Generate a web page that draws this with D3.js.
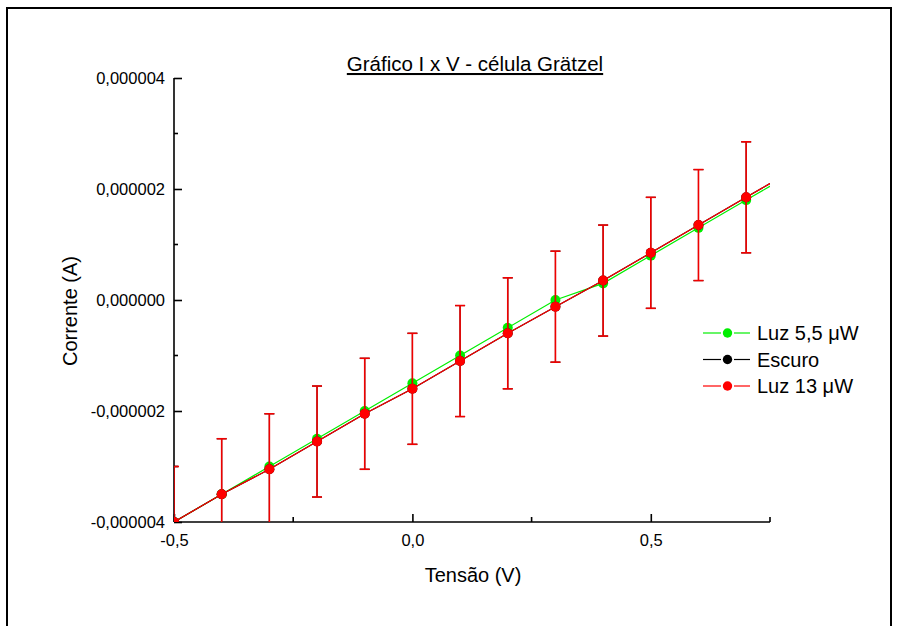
<!DOCTYPE html>
<html>
<head>
<meta charset="utf-8">
<script src="https://cdn.jsdelivr.net/npm/d3@7"></script>
<style>
  body { margin: 0; background: #fff; }
  svg { display: block; font-family: "Liberation Sans", Arial, sans-serif; }
</style>
</head>
<body>
<svg id="chart" width="898" height="626"></svg>
<script>
// tensão (V) and corrente (µA)
const voltage = [-0.5, -0.4, -0.3, -0.2, -0.1, 0.0, 0.1, 0.2, 0.3, 0.4, 0.5, 0.6, 0.7, 0.8]
const luz55 = [-4.0, -3.5, -3.0, -2.5, -2.0, -1.5, -1.0, -0.5, 0.0, 0.3, 0.8, 1.3, 1.8, 2.3]
const escuro = [-4.0, -3.5, -3.05, -2.55, -2.05, -1.6, -1.1, -0.6, -0.12, 0.35, 0.85, 1.35, 1.85, 2.35]
const luz13 = [-4.0, -3.5, -3.05, -2.55, -2.05, -1.6, -1.1, -0.6, -0.12, 0.35, 0.85, 1.35, 1.85, 2.35]
const errEscuro = [1, 1, 1, 1, 1, 1, 1, 1, 1, 1, 1, 1, 1, 1]
const errLuz13 = [1, 1, 1, 1, 1, 1, 1, 1, 1, 1, 1, 1, 1, 1]

const xTicks = [-0.5, 0.0, 0.5]
const xMinor = [-0.25, 0.25, 0.75]
const yTicks = [-4, -2, 0, 2, 4]
const yMinor = [-3, -1, 1, 3]

const seriesNames = ["Luz 5,5 \u03BCW", "Escuro", "Luz 13 \u03BCW"]
const seriesColors = ["#00ee00", "#000000", "#ff0000"]

const svg = d3.select("#chart")
const plot = { left: 174, right: 770, top: 78, bottom: 522 }

const x = d3.scaleLinear().domain([-0.5, 0.75]).range([plot.left, plot.right])
const y = d3.scaleLinear().domain([-4, 4]).range([plot.bottom, plot.top])

const fmtY = (v) => (v === 0 ? "0,000000" : d3.format(".6f")(v * 1e-6).replace(".", ",").replace("−", "-"))
const fmtX = (v) => d3.format(".1f")(v).replace(".", ",").replace("−", "-")

// outer frame
svg.append("rect")
  .attr("x", 7).attr("y", 8)
  .attr("width", 884).attr("height", 640)
  .attr("fill", "none")
  .attr("stroke", "#000")
  .attr("stroke-width", 2)

svg.append("defs").append("clipPath").attr("id", "clip")
  .append("rect")
  .attr("x", plot.left).attr("y", plot.top)
  .attr("width", plot.right - plot.left).attr("height", plot.bottom - plot.top)

// title
svg.append("text")
  .attr("x", 475).attr("y", 71)
  .attr("text-anchor", "middle")
  .attr("font-size", 20.5)
  .attr("text-decoration", "underline")
  .text("Gráfico I x V - célula Grätzel")

// axes
const yAxis = d3.axisLeft(y).tickValues(yTicks).tickSize(-8).tickPadding(9).tickFormat(fmtY)
const gy = svg.append("g").attr("transform", `translate(${plot.left},0)`).call(yAxis)
gy.select(".domain").attr("stroke-width", 1.6).attr("d", `M0,${plot.top}V${plot.bottom}`)
gy.selectAll(".tick line").attr("stroke-width", 1.6)
gy.selectAll(".tick text").attr("font-size", 16.5).attr("fill", "#000").attr("font-family", "Liberation Sans, Arial")
gy.selectAll(".tick text").attr("x", -9)
gy.selectAll("line.minor").data(yMinor).join("line")
  .attr("class", "minor")
  .attr("x1", 0).attr("x2", 4)
  .attr("y1", (d) => y(d)).attr("y2", (d) => y(d))
  .attr("stroke", "#000").attr("stroke-width", 1.6)

const xAxis = d3.axisBottom(x).tickValues(xTicks).tickSize(-8).tickPadding(12).tickFormat(fmtX)
const gx = svg.append("g").attr("transform", `translate(0,${plot.bottom})`).call(xAxis)
gx.select(".domain").attr("stroke-width", 1.6).attr("d", `M${plot.left},0H${plot.right}`)
gx.selectAll(".tick line").attr("stroke-width", 1.6)
gx.selectAll(".tick text").attr("font-size", 16.5).attr("fill", "#000").attr("font-family", "Liberation Sans, Arial")
gx.selectAll("line.minor").data(xMinor).join("line")
  .attr("class", "minor")
  .attr("x1", (d) => x(d)).attr("x2", (d) => x(d))
  .attr("y1", 0).attr("y2", -5)
  .attr("stroke", "#000").attr("stroke-width", 1.6)

svg.append("text")
  .attr("x", 473).attr("y", 582)
  .attr("text-anchor", "middle")
  .attr("font-size", 20)
  .text("Tensão (V)")

svg.append("text")
  .attr("transform", "translate(77,311) rotate(-90)")
  .attr("text-anchor", "middle")
  .attr("font-size", 20)
  .text("Corrente (A)")

// data
const series = [
  { name: seriesNames[0], color: seriesColors[0], values: luz55, err: null },
  { name: seriesNames[1], color: seriesColors[1], values: escuro, err: errEscuro },
  { name: seriesNames[2], color: seriesColors[2], values: luz13, err: errLuz13 },
]

const plotArea = svg.append("g").attr("clip-path", "url(#clip)")
const line = d3.line().x((d) => x(d.v)).y((d) => y(d.i))

series.forEach((s, si) => {
  const pts = voltage.map((v, k) => ({ v, i: s.values[k], e: s.err ? s.err[k] : 0 }))
  const g = plotArea.append("g").attr("class", "series-" + si)

  if (s.err) {
    const eb = g.selectAll("g.err").data(pts).join("g").attr("class", "err")
      .attr("stroke", si === 2 ? "#f00000" : "#000")
      .attr("stroke-width", si === 2 ? 1.6 : 1.1)
    eb.append("line")
      .attr("x1", (d) => x(d.v)).attr("x2", (d) => x(d.v))
      .attr("y1", (d) => y(d.i - d.e)).attr("y2", (d) => y(d.i + d.e))
    eb.append("line")
      .attr("x1", (d) => x(d.v) - 5).attr("x2", (d) => x(d.v) + 5)
      .attr("y1", (d) => y(d.i + d.e)).attr("y2", (d) => y(d.i + d.e))
    eb.append("line")
      .attr("x1", (d) => x(d.v) - 5).attr("x2", (d) => x(d.v) + 5)
      .attr("y1", (d) => y(d.i - d.e)).attr("y2", (d) => y(d.i - d.e))
  }

  g.append("path")
    .datum(pts)
    .attr("d", line)
    .attr("fill", "none")
    .attr("stroke", s.color)
    .attr("stroke-width", 1.2)

  g.selectAll("circle").data(pts).join("circle")
    .attr("cx", (d) => x(d.v))
    .attr("cy", (d) => y(d.i))
    .attr("r", 5)
    .attr("fill", s.color)
})

// legend
const legend = svg.append("g").attr("transform", "translate(703,333)")
const rows = legend.selectAll("g").data(series).join("g")
  .attr("transform", (d, i) => `translate(0,${i * 26.5})`)
rows.append("line").attr("x1", 0).attr("x2", 18).attr("stroke", (d) => d.color).attr("stroke-width", 1.2)
rows.append("line").attr("x1", 31).attr("x2", 47).attr("stroke", (d) => d.color).attr("stroke-width", 1.2)
rows.append("circle").attr("cx", 24.5).attr("r", 4.7).attr("fill", (d) => d.color)
rows.append("text")
  .attr("x", 54).attr("y", 7)
  .attr("font-size", 20)
  .text((d) => d.name)
</script>
</body>
</html>
